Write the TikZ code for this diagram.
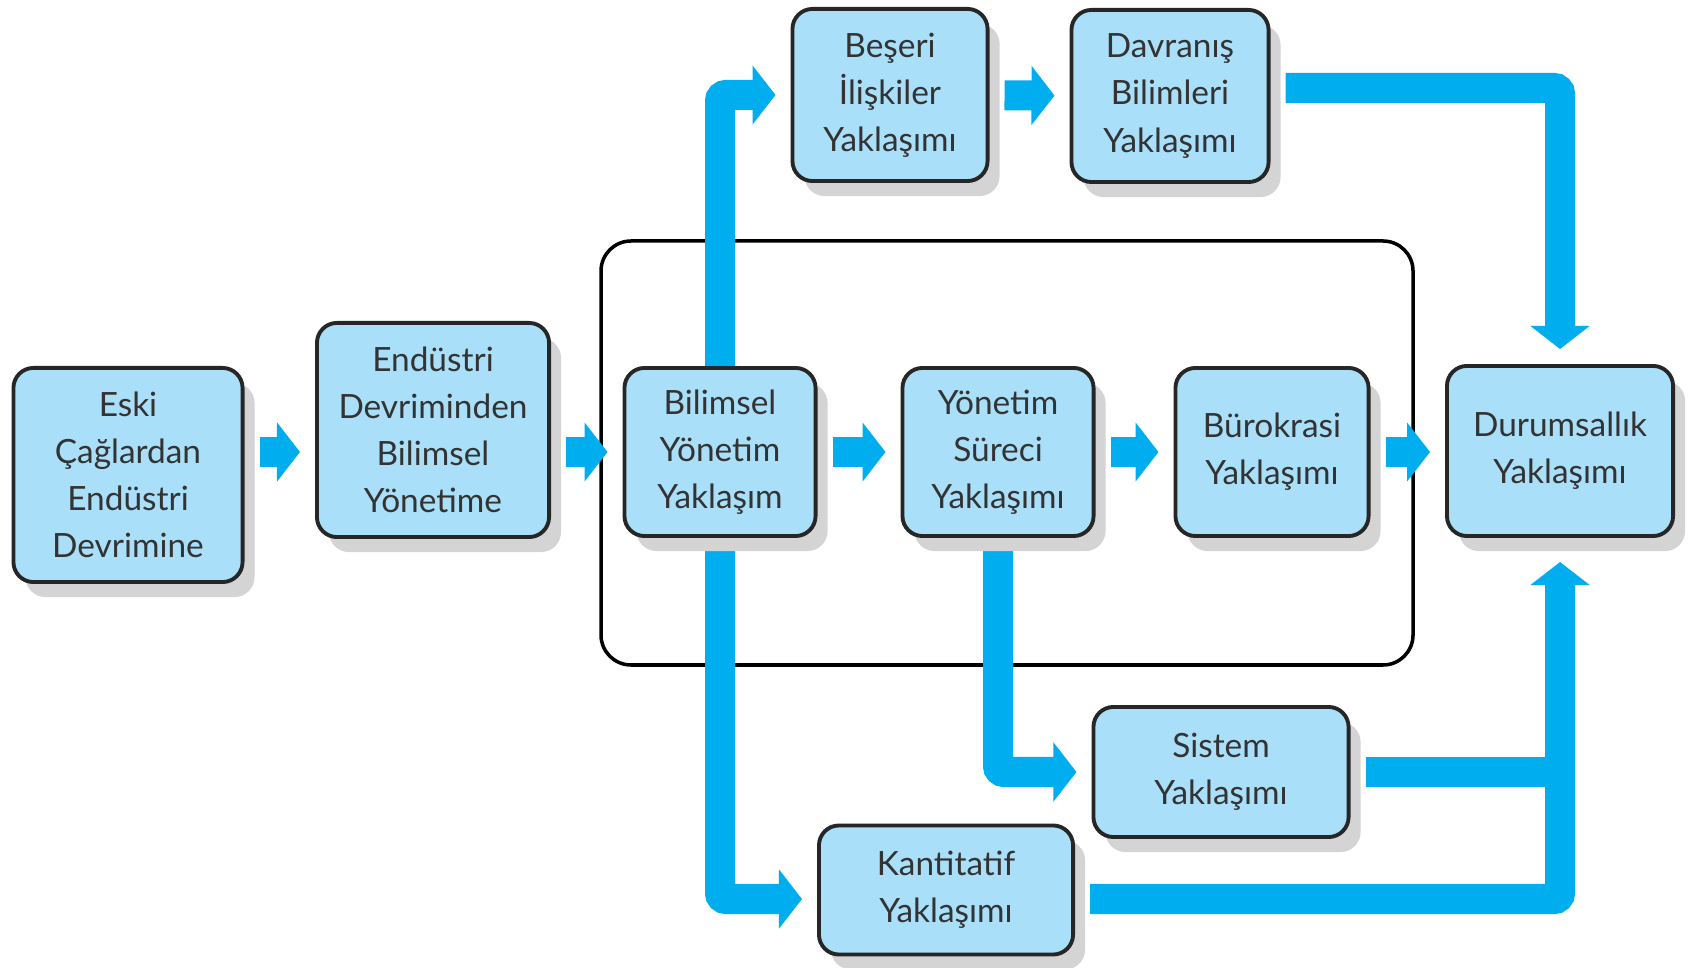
\documentclass[tikz,border=0pt]{standalone}
\usepackage{fontspec}
\setmainfont{Lato}
\usetikzlibrary{arrows.meta,shadows}
\definecolor{kutumavi}{HTML}{A9DFF8}
\definecolor{okmavi}{HTML}{00AEEF}
\pgfdeclarelayer{arka}
\pgfsetlayers{arka,main}

\begin{document}
\begin{tikzpicture}
  [x=0.01cm,y=-0.01cm,
   kutu/.style={draw=black!85,line width=1.1pt,rounded corners=2mm,fill=kutumavi,
     text=black!80,align=center,inner sep=0pt,font=\fontsize{9.5}{13.4}\selectfont,
     drop shadow={shadow xshift=1.2mm,shadow yshift=-1.5mm,fill=black!17,opacity=1}},
   ok/.style={draw=okmavi,line width=3mm,rounded corners=0.6mm,
     -{Triangle[width=5.8mm,length=2.3mm]},shorten <=1.5mm,shorten >=1.5mm}]
  \useasboundingbox (0,0) rectangle (1689,968);

  \node[kutu,minimum width=2.29cm,minimum height=2.14cm] (eski) at (128,475) {Eski\\Çağlardan\\Endüstri\\Devrimine};
  \node[kutu,minimum width=2.32cm,minimum height=2.14cm] (endu) at (433,430) {Endüstri\\Devriminden\\Bilimsel\\Yönetime};
  \node[kutu,minimum width=1.91cm,minimum height=1.68cm] (bil) at (720,452) {Bilimsel\\Yönetim\\Yaklaşım};
  \node[kutu,minimum width=1.91cm,minimum height=1.68cm] (yon) at (998,452) {Yönetim\\Süreci\\Yaklaşımı};
  \node[kutu,minimum width=1.93cm,minimum height=1.68cm] (bur) at (1272,452) {Bürokrasi\\Yaklaşımı};
  \node[kutu,minimum width=2.26cm,minimum height=1.70cm] (dur) at (1560,451) {Durumsallık\\Yaklaşımı};
  \node[kutu,minimum width=1.95cm,minimum height=1.72cm] (bes) at (890,95) {Beşeri\\İlişkiler\\Yaklaşımı};
  \node[kutu,minimum width=1.97cm,minimum height=1.72cm] (dav) at (1170,96) {Davranış\\Bilimleri\\Yaklaşımı};
  \node[kutu,minimum width=2.55cm,minimum height=1.30cm] (sis) at (1221,772) {Sistem\\Yaklaşımı};
  \node[kutu,minimum width=2.54cm,minimum height=1.29cm] (kan) at (946,890) {Kantitatif\\Yaklaşımı};

  \begin{pgfonlayer}{arka}
  \draw[line width=1pt,rounded corners=3mm] (601,241) rectangle (1413,665);

  \foreach \a/\b in {eski/endu,endu/bil,bil/yon,yon/bur,bur/dur}
    \draw[ok] (\a.east |- bil) -- (\b.west |- bil);
  \draw[ok] (bes) -- (dav);

  \draw[ok,shorten <=0mm] (bil.north) |- (bes.west);
  \draw[ok,shorten <=0mm] (bil.south) |- ([yshift=-0.9mm]kan.west);
  \draw[ok,shorten <=0mm] (yon.south) |- (sis.west);
  \draw[ok] ([yshift=0.8mm]dav.east) -| (dur.north);
  \draw[ok,shorten >=2.4mm] ([yshift=-0.9mm]kan.east) -| (dur.south);
  \draw[ok,-] (sis.east) -- (sis.east -| dur.south);
  \end{pgfonlayer}
\end{tikzpicture}
\end{document}
